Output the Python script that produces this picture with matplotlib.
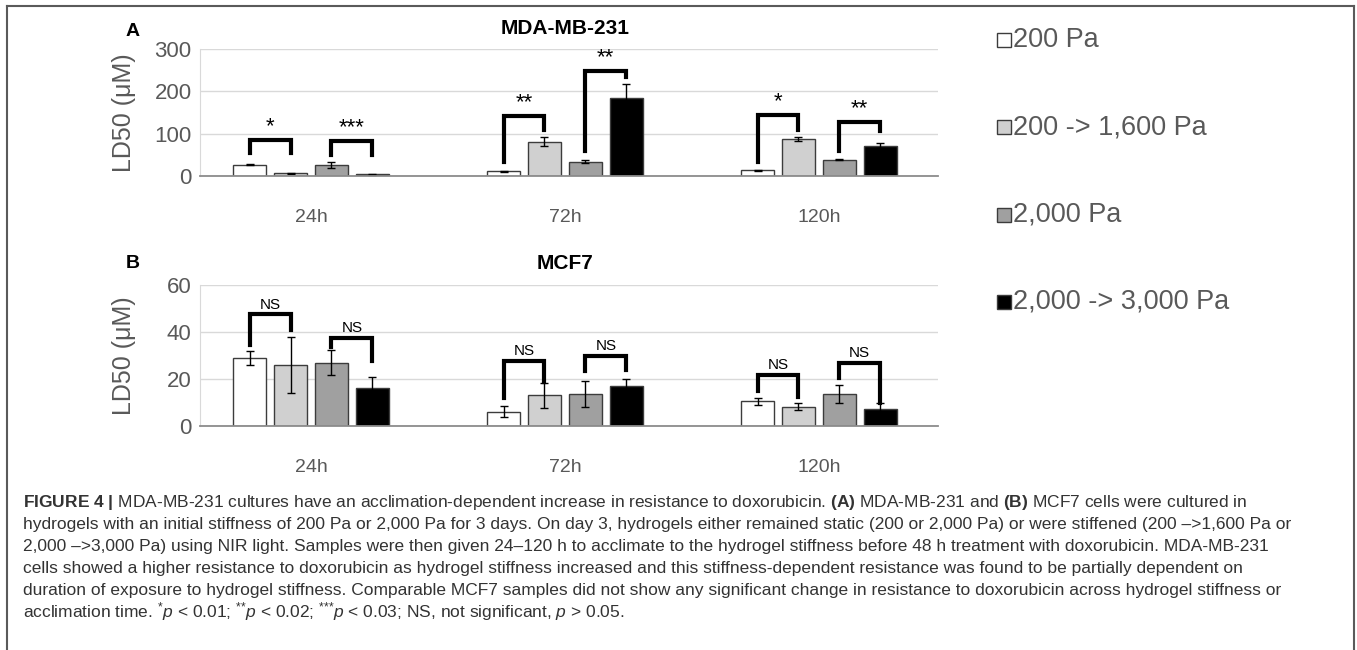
import matplotlib
matplotlib.use('Agg')
import matplotlib.pyplot as plt
import numpy as np
from matplotlib import font_manager as fm
from matplotlib.lines import Line2D
from matplotlib.patches import Rectangle

groups = ['24h', '72h', '120h']
series = ['200 Pa', '200 -> 1,600 Pa', '2,000 Pa', '2,000 -> 3,000 Pa']
colors = ['white', '#d0d0d0', '#a0a0a0', 'black']

# panel A, MDA-MB-231 (one row per series, one value per group)
mda = [[27, 11, 13], [6, 81, 88], [26, 34, 38], [4, 185, 72]]
mda_err = [[2, 1, 1], [2, 11, 5], [6, 3, 1], [1, 32, 7]]
# brackets: 24h a/b, 24h c/d, 72h a/b, 72h c/d, 120h a/b, 120h c/d
mda_sig = ['*', '***', '**', '**', '*', '**']
mda_top = [85, 83, 142, 249, 143, 128]
mda_left = [54, 50, 32, 58, 32, 59]
mda_right = [54, 50, 109, 234, 109, 107]

# panel B, MCF7
mcf = [[29, 6, 10.5], [26, 13, 8.2], [27, 13.6, 13.6], [16, 17, 7.1]]
mcf_err = [[3, 2.3, 1.5], [12, 5.2, 1.4], [5.3, 5.7, 3.9], [5, 3, 2.5]]
mcf_sig = ['NS'] * 6
mcf_top = [47.5, 37.4, 27.7, 30, 21.7, 27]
mcf_left = [34.5, 33.8, 12, 23.4, 14.9, 20.3]
mcf_right = [41, 27.7, 18.6, 23.8, 12.2, 9.6]

caption = [
    r"$\bf{FIGURE\ 4\ |}$ MDA-MB-231 cultures have an acclimation-dependent increase in resistance to doxorubicin. $\bf{(A)}$ MDA-MB-231 and $\bf{(B)}$ MCF7 cells were cultured in",
    "hydrogels with an initial stiffness of 200 Pa or 2,000 Pa for 3 days. On day 3, hydrogels either remained static (200 or 2,000 Pa) or were stiffened (200 \u2013>1,600 Pa or",
    "2,000 \u2013>3,000 Pa) using NIR light. Samples were then given 24\u2013120 h to acclimate to the hydrogel stiffness before 48 h treatment with doxorubicin. MDA-MB-231",
    "cells showed a higher resistance to doxorubicin as hydrogel stiffness increased and this stiffness-dependent resistance was found to be partially dependent on",
    "duration of exposure to hydrogel stiffness. Comparable MCF7 samples did not show any significant change in resistance to doxorubicin across hydrogel stiffness or",
    r"acclimation time. ${}^{{*}}p$ < 0.01; ${}^{{*}{*}}p$ < 0.02; ${}^{{*}{*}{*}}p$ < 0.03; NS, not significant, $p$ > 0.05.",
]

installed = {f.name for f in fm.fontManager.ttflist}
cap_font = 'Liberation Sans Narrow' if 'Liberation Sans Narrow' in installed else 'Liberation Sans'
plt.rcParams['font.family'] = ['Liberation Sans', 'DejaVu Sans']
plt.rcParams['mathtext.fontset'] = 'custom'
plt.rcParams['mathtext.rm'] = cap_font
plt.rcParams['mathtext.it'] = cap_font + ':italic'
plt.rcParams['mathtext.bf'] = cap_font + ':bold'

W, H = 1357, 650
fig = plt.figure(figsize=(W / 100, H / 100), dpi=100)


def px_axes(l, t, r, b):
    return fig.add_axes([l / W, 1 - b / H, (r - l) / W, (b - t) / H])


bw = 0.13
pitch = 0.161
gray = '#595959'


def draw_panel(ax, vals, errs, ymax, ystep, sig, tops, lefts, rights, sig_size):
    x = np.arange(len(groups))
    offs = (np.arange(4) - 1.5) * pitch
    for i in range(4):
        ax.bar(x + offs[i], vals[i], width=bw, color=colors[i], edgecolor='#3c3c3c',
               linewidth=1, yerr=errs[i], zorder=2,
               error_kw=dict(ecolor='black', elinewidth=1, capsize=3, capthick=1))
    for k in range(6):
        g, p = k // 2, k % 2
        xl = g + offs[2 * p]
        xr = g + offs[2 * p + 1]
        ax.plot([xl, xl, xr, xr], [lefts[k], tops[k], tops[k], rights[k]],
                color='black', lw=3, zorder=3, solid_joinstyle='miter', clip_on=False)
        ax.annotate(sig[k], xy=((xl + xr) / 2, tops[k]), xytext=(0, 2),
                    textcoords='offset points', ha='center', va='bottom',
                    fontsize=sig_size, annotation_clip=False)
    ax.set_xlim(-0.437, 2.469)
    ax.set_ylim(0, ymax)
    ax.set_yticks(np.arange(0, ymax + 1, ystep))
    ax.set_xticks(x)
    ax.set_xticklabels(groups)
    ax.yaxis.grid(True, color='#d9d9d9', lw=1)
    ax.set_axisbelow(True)
    for s in ['top', 'right']:
        ax.spines[s].set_visible(False)
    ax.spines['left'].set_color('#d9d9d9')
    ax.spines['bottom'].set_color('#8c8c8c')
    ax.spines['bottom'].set_linewidth(1.3)
    ax.tick_params(axis='y', length=0, pad=6, labelsize=16, labelcolor=gray)
    ax.tick_params(axis='x', length=0, pad=24, labelsize=14, labelcolor=gray)


axA = px_axes(200, 49, 938, 176)
draw_panel(axA, mda, mda_err, 300, 100, mda_sig, mda_top, mda_left, mda_right, 16)
axB = px_axes(200, 285, 938, 426)
draw_panel(axB, mcf, mcf_err, 60, 20, mcf_sig, mcf_top, mcf_left, mcf_right, 11)

# titles, panel letters, y labels
fig.text(565 / W, 1 - 29 / H, 'MDA-MB-231', ha='center', va='center', fontsize=15, fontweight='bold')
fig.text(565 / W, 1 - 264 / H, 'MCF7', ha='center', va='center', fontsize=15, fontweight='bold')
fig.text(133 / W, 1 - 32 / H, 'A', ha='center', va='center', fontsize=14, fontweight='bold')
fig.text(133 / W, 1 - 264 / H, 'B', ha='center', va='center', fontsize=14, fontweight='bold')
fig.text(124 / W, 1 - 113 / H, 'LD50 (\u03bcM)', rotation=90, ha='center', va='center', fontsize=18, color=gray)
fig.text(124 / W, 1 - 356 / H, 'LD50 (\u03bcM)', rotation=90, ha='center', va='center', fontsize=18, color=gray)

# legend
leg_y = [40, 127, 215, 302]
for i in range(4):
    fig.add_artist(Rectangle((997 / W, 1 - (leg_y[i] + 7) / H), 14 / W, 14 / H,
                             transform=fig.transFigure, facecolor=colors[i],
                             edgecolor='#3c3c3c', lw=1))
    fig.text(1013 / W, 1 - leg_y[i] / H, series[i], va='center', ha='left', fontsize=19.5, color=gray)

# caption
cap_y = [502, 524, 546, 568, 590, 612]
texts = []
for i, line in enumerate(caption):
    texts.append(fig.text(23 / W, 1 - cap_y[i] / H, line, va='center', ha='left',
                          fontsize=12, color='#333333', family=[cap_font, 'DejaVu Sans']))
r = fig.canvas.get_renderer()
w = max(t.get_window_extent(renderer=r).width for t in texts)
size = 12 * (1295 - 23) / w
for t in texts:
    t.set_fontsize(size)

# frame round the figure
for xs, ys in [([7, 7], [650, 6]), ([7, 1354], [6, 6]), ([1354, 1354], [6, 650])]:
    fig.add_artist(Line2D([v / W for v in xs], [1 - v / H for v in ys],
                          transform=fig.transFigure, color='#5a5a5a', lw=1.5))

fig.savefig('out.png', dpi=100)
